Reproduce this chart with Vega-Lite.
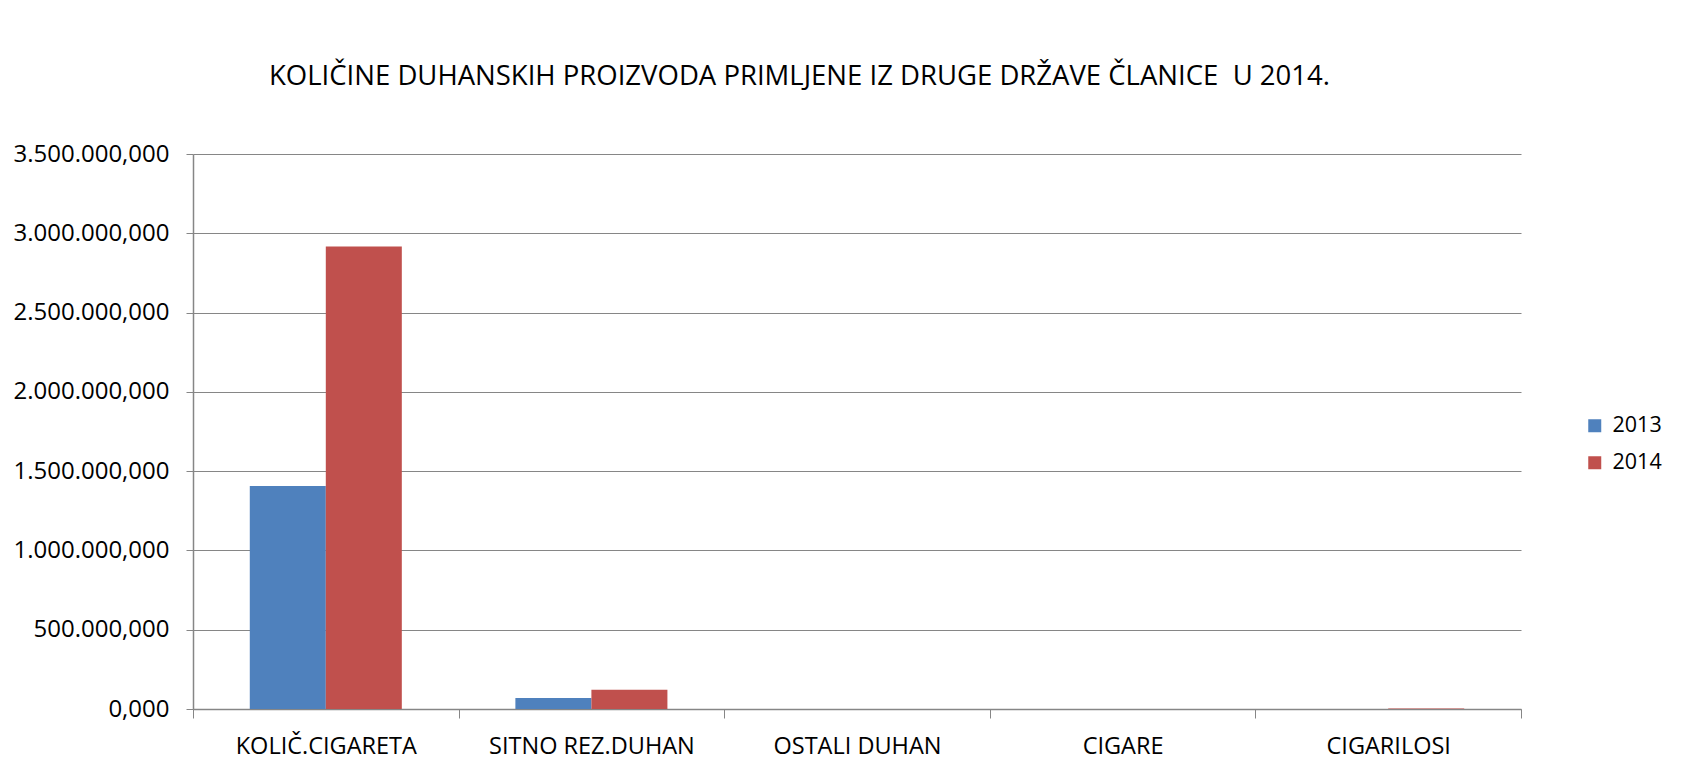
{
  "$schema": "https://vega.github.io/schema/vega-lite/v6.json",
  "autosize": {"type": "none"},
  "padding": {"left": 193, "top": 154, "right": 186, "bottom": 70},
  "width": 1328,
  "height": 555,
  "background": "white",
  "title": {
    "text": "KOLIČINE DUHANSKIH PROIZVODA PRIMLJENE IZ DRUGE DRŽAVE ČLANICE \u00a0U 2014.",
    "anchor": "start",
    "frame": "group",
    "dx": 76,
    "offset": 30,
    "baseline": "alphabetic",
    "font": "Open Sans",
    "fontSize": 27.5,
    "fontWeight": "normal",
    "color": "#000000"
  },
  "data": {
    "values": [
      {"kategorija": "KOLIČ.CIGARETA", "godina": "2013", "kolicina": 1407000},
      {"kategorija": "KOLIČ.CIGARETA", "godina": "2014", "kolicina": 2917000},
      {"kategorija": "SITNO REZ.DUHAN", "godina": "2013", "kolicina": 69000},
      {"kategorija": "SITNO REZ.DUHAN", "godina": "2014", "kolicina": 122000},
      {"kategorija": "OSTALI DUHAN", "godina": "2013", "kolicina": 300},
      {"kategorija": "OSTALI DUHAN", "godina": "2014", "kolicina": 400},
      {"kategorija": "CIGARE", "godina": "2013", "kolicina": 200},
      {"kategorija": "CIGARE", "godina": "2014", "kolicina": 300},
      {"kategorija": "CIGARILOSI", "godina": "2013", "kolicina": 300},
      {"kategorija": "CIGARILOSI", "godina": "2014", "kolicina": 2500}
    ]
  },
  "mark": {"type": "bar"},
  "encoding": {
    "x": {
      "field": "kategorija",
      "type": "nominal",
      "sort": null,
      "scale": {"paddingInner": 0, "paddingOuter": 0},
      "axis": {
        "title": null,
        "labelAngle": 0,
        "tickBand": "extent",
        "tickSize": 9,
        "tickColor": "#868686",
        "domainColor": "#868686",
        "labelPadding": 28,
        "labelBaseline": "middle",
        "labelFont": "Open Sans",
        "labelFontSize": 23.5,
        "labelLimit": 0,
        "labelColor": "#000000",
        "grid": false
      }
    },
    "xOffset": {
      "field": "godina",
      "type": "nominal",
      "scale": {"paddingInner": 0, "paddingOuter": 0.747}
    },
    "y": {
      "field": "kolicina",
      "type": "quantitative",
      "scale": {"domain": [0, 3500000], "nice": false},
      "axis": {
        "title": null,
        "values": [0, 500000, 1000000, 1500000, 2000000, 2500000, 3000000, 3500000],
        "format": ",.3f",
        "tickSize": 7,
        "tickColor": "#868686",
        "domainColor": "#868686",
        "gridColor": "#868686",
        "gridWidth": 1,
        "labelPadding": 17,
        "labelFont": "Open Sans",
        "labelFontSize": 24,
        "labelLimit": 0,
        "labelColor": "#000000"
      }
    },
    "color": {
      "field": "godina",
      "type": "nominal",
      "scale": {"domain": ["2013", "2014"], "range": ["#4F81BD", "#C0504D"]},
      "legend": {
        "title": null,
        "orient": "none",
        "legendX": 1391,
        "legendY": 261,
        "symbolType": "square",
        "symbolSize": 169,
        "symbolStrokeWidth": 0,
        "labelFont": "Open Sans",
        "labelFontSize": 21.5,
        "labelColor": "#000000",
        "rowPadding": 14,
        "labelOffset": 7
      }
    }
  },
  "config": {
    "locale": {
      "number": {"decimal": ",", "thousands": ".", "grouping": [3], "currency": ["", " €"]}
    },
    "view": {"stroke": null},
    "axis": {"domainWidth": 1.5}
  }
}
